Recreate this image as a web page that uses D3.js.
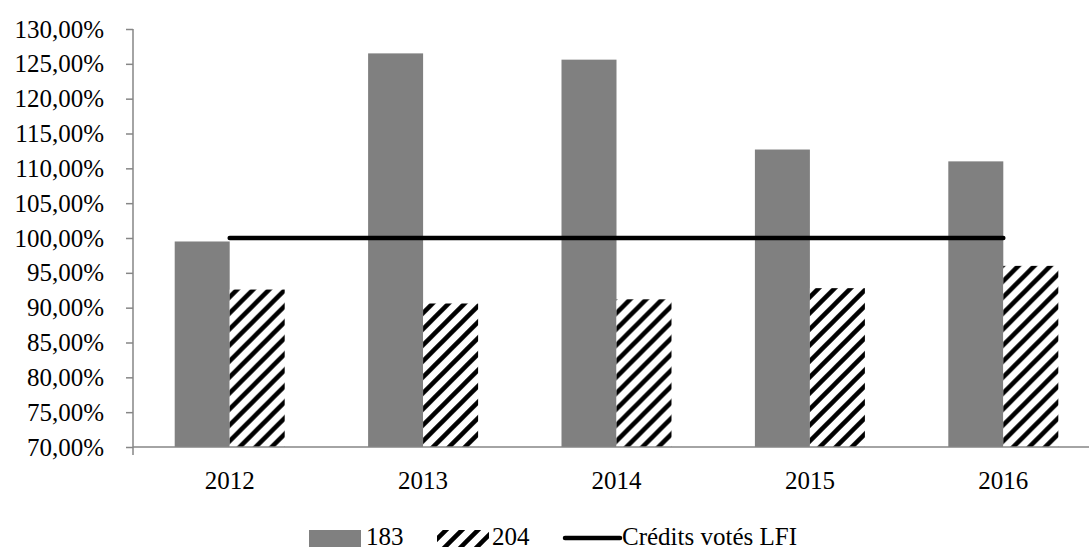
<!DOCTYPE html>
<html>
<head>
<meta charset="utf-8">
<script src="https://cdn.jsdelivr.net/npm/d3@7"></script>
<style>
  html, body { margin: 0; padding: 0; background: #fff; }
  svg { display: block; }
  text { font-family: "Liberation Serif", "DejaVu Serif", serif; fill: #000; }
</style>
</head>
<body>
<svg id="chart" width="1089" height="550"></svg>
<script>
// Years on the category axis
const years = ["2012", "2013", "2014", "2015", "2016"];
// Execution rate per programme (percent)
const prog183 = [99.5, 126.5, 125.6, 112.7, 111.0];
const prog204 = [92.6, 90.6, 91.2, 92.8, 96.0];
// Reference level: appropriations voted in the initial finance law
const lfi = [100, 100, 100, 100, 100];
// Value axis ticks
const yTicks = [70, 75, 80, 85, 90, 95, 100, 105, 110, 115, 120, 125, 130];
const seriesNames = ["183", "204"];
const lineName = "Crédits votés LFI";

const svg = d3.select("#chart");
const fmt = v => d3.format(".2f")(v).replace(".", ",") + "%";
const fontSize = "25px";

const plotLeft = 133, plotRight = 1100, plotTop = 29, plotBottom = 447;

const y = d3.scaleLinear().domain([70, 130]).range([plotBottom, plotTop]);
const x = d3.scaleBand().domain(years).range([plotLeft, plotRight]).paddingInner(0).paddingOuter(0);
const barW = 55;
const x1 = d3.scaleBand().domain(seriesNames).range([0, barW * 2]);

// Hatch pattern for programme 204
const defs = svg.append("defs");
const pat = defs.append("pattern")
  .attr("id", "hatch")
  .attr("patternUnits", "userSpaceOnUse")
  .attr("width", 16).attr("height", 16);
pat.append("rect").attr("width", 16).attr("height", 16).attr("fill", "#fff");
pat.append("path")
  .attr("d", "M-4,4 L4,-4 M0,16 L16,0 M12,20 L20,12")
  .attr("stroke", "#000").attr("stroke-width", 4.5);

// Bars
const data = years.map((yr, i) => ({ year: yr, values: [prog183[i], prog204[i]] }));
const groups = svg.append("g").selectAll("g").data(data).join("g")
  .attr("transform", d => `translate(${x(d.year) + x.bandwidth() / 2 - barW},0)`);
groups.selectAll("rect").data(d => d.values.map((v, j) => ({ v, s: seriesNames[j] })))
  .join("rect")
  .attr("x", d => x1(d.s))
  .attr("y", d => y(d.v))
  .attr("width", x1.bandwidth())
  .attr("height", d => plotBottom - y(d.v))
  .attr("fill", d => d.s === "183" ? "#808080" : "url(#hatch)");

// Axes
const yAxis = d3.axisLeft(y).tickValues(yTicks).tickFormat(fmt).tickSize(7).tickPadding(22);
const gy = svg.append("g").attr("transform", `translate(${plotLeft},0)`).call(yAxis);
gy.select(".domain").attr("stroke", "#868686").attr("stroke-width", 1.5)
  .attr("d", `M0,${plotTop}H0V${plotBottom + 8}`);
gy.selectAll(".tick line").attr("stroke", "#868686").attr("stroke-width", 1.5);
gy.selectAll(".tick text").style("font-size", fontSize).style("font-family", "Liberation Serif, serif");

const xAxis = d3.axisBottom(x).tickSize(0).tickPadding(24);
const gx = svg.append("g").attr("transform", `translate(0,${plotBottom})`).call(xAxis);
gx.select(".domain").attr("stroke", "#868686").attr("stroke-width", 1.5)
  .attr("d", `M${plotLeft},0H1089`);
gx.selectAll(".tick text").style("font-size", fontSize).style("font-family", "Liberation Serif, serif");

// LFI reference line
const line = d3.line().x((d, i) => x(years[i]) + x.bandwidth() / 2).y(d => y(d));
svg.append("path").datum(lfi)
  .attr("d", line)
  .attr("fill", "none").attr("stroke", "#000").attr("stroke-width", 4.5)
  .attr("stroke-linecap", "round");

// Legend
const lg = svg.append("g");
lg.append("rect").attr("x", 309).attr("y", 530).attr("width", 52).attr("height", 17).attr("fill", "#808080");
lg.append("text").attr("x", 366).attr("y", 545).style("font-size", fontSize).text(seriesNames[0]);
lg.append("rect").attr("x", 437).attr("y", 530).attr("width", 52).attr("height", 17).attr("fill", "url(#hatch)");
lg.append("text").attr("x", 492).attr("y", 545).style("font-size", fontSize).text(seriesNames[1]);
lg.append("line").attr("x1", 565).attr("x2", 620).attr("y1", 538).attr("y2", 538)
  .attr("stroke", "#000").attr("stroke-width", 4.5).attr("stroke-linecap", "round");
lg.append("text").attr("x", 622).attr("y", 545).style("font-size", fontSize).text(lineName);
</script>
</body>
</html>
